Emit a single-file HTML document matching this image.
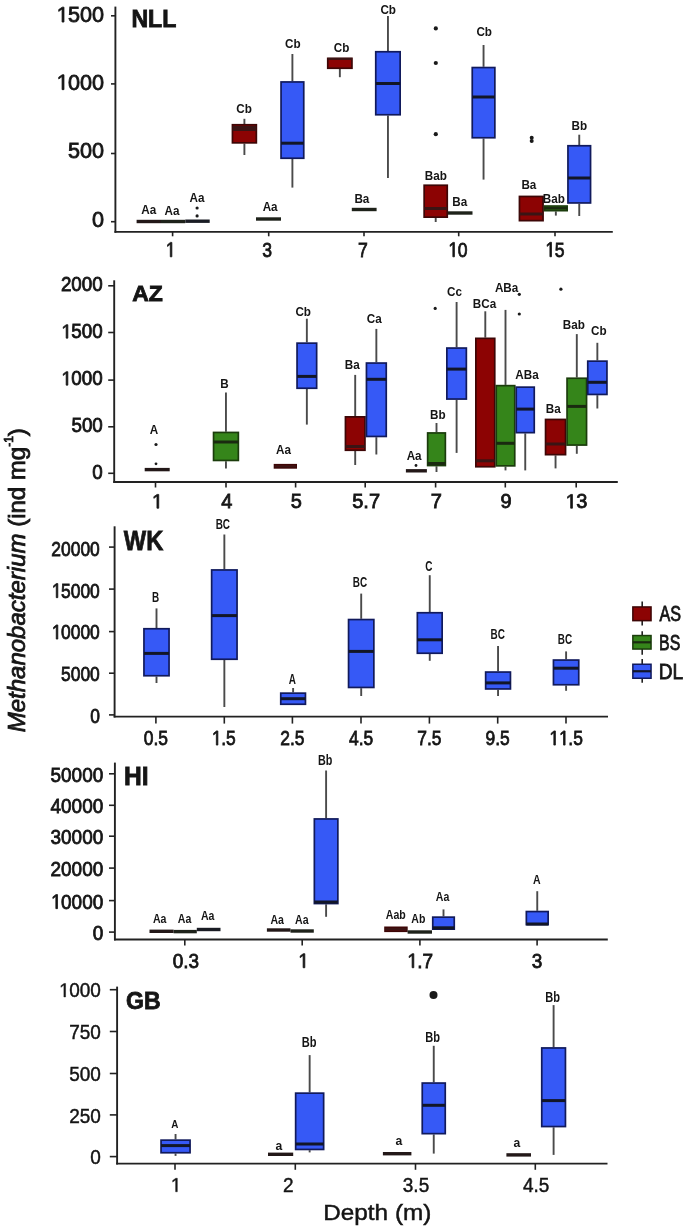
<!DOCTYPE html>
<html><head><meta charset="utf-8"><style>
html,body{margin:0;padding:0;background:#fff;}
svg{display:block;will-change:transform;}
text{font-family:"Liberation Sans",sans-serif;fill:#151515;stroke:#151515;stroke-width:0.8px;}
text.t{stroke-width:0.45px;}
text.l{stroke:none;}
</style></head><body>
<svg width="685" height="1229" viewBox="0 0 685 1229">
<rect width="685" height="1229" fill="#fff"/>
<line x1="115.4" y1="6.6" x2="115.4" y2="232.8" stroke="#222" stroke-width="1.9"/>
<line x1="114.5" y1="231.9" x2="612.8" y2="231.9" stroke="#222" stroke-width="1.9"/>
<line x1="111" y1="15.8" x2="115.4" y2="15.8" stroke="#222" stroke-width="1.6"/>
<line x1="111" y1="83.9" x2="115.4" y2="83.9" stroke="#222" stroke-width="1.6"/>
<line x1="111" y1="153.5" x2="115.4" y2="153.5" stroke="#222" stroke-width="1.6"/>
<line x1="111" y1="221.7" x2="115.4" y2="221.7" stroke="#222" stroke-width="1.6"/>
<text transform="translate(56,22.05)" font-size="21.6"> 500</text>
<path transform="translate(56,22.05) scale(0.01055,-0.01055) translate(0,0)" d="M575 0V1237L257 1010V1180L590 1409H756V0Z" fill="#151515" stroke="#151515" stroke-width="0.8" vector-effect="non-scaling-stroke"/>
<text transform="translate(56,89.65)" font-size="21.6"> 000</text>
<path transform="translate(56,89.65) scale(0.01055,-0.01055) translate(0,0)" d="M575 0V1237L257 1010V1180L590 1409H756V0Z" fill="#151515" stroke="#151515" stroke-width="0.8" vector-effect="non-scaling-stroke"/>
<text transform="translate(68.09,157.65)" font-size="21.6">500</text>
<text transform="translate(92.07,227.15)" font-size="21.6">0</text>
<line x1="172.6" y1="231.8" x2="172.6" y2="236.3" stroke="#222" stroke-width="1.6"/>
<line x1="268.7" y1="231.8" x2="268.7" y2="236.3" stroke="#222" stroke-width="1.6"/>
<line x1="364" y1="231.8" x2="364" y2="236.3" stroke="#222" stroke-width="1.6"/>
<line x1="458.7" y1="231.8" x2="458.7" y2="236.3" stroke="#222" stroke-width="1.6"/>
<line x1="555" y1="231.8" x2="555" y2="236.3" stroke="#222" stroke-width="1.6"/>
<text transform="translate(165.34,256.84) scale(0.840,1)" font-size="21"> </text>
<path transform="translate(165.34,256.84) scale(0.840,1) scale(0.01025,-0.01025) translate(0,0)" d="M575 0V1237L257 1010V1180L590 1409H756V0Z" fill="#151515" stroke="#151515" stroke-width="0.8" vector-effect="non-scaling-stroke"/>
<text transform="translate(262.2,256.84) scale(0.840,1)" font-size="21">3</text>
<text transform="translate(358,256.84) scale(0.840,1)" font-size="21">7</text>
<text transform="translate(447.91,256.84) scale(0.840,1)" font-size="21"> 0</text>
<path transform="translate(447.91,256.84) scale(0.840,1) scale(0.01025,-0.01025) translate(0,0)" d="M575 0V1237L257 1010V1180L590 1409H756V0Z" fill="#151515" stroke="#151515" stroke-width="0.8" vector-effect="non-scaling-stroke"/>
<text transform="translate(544.96,256.74) scale(0.840,1)" font-size="21"> 5</text>
<path transform="translate(544.96,256.74) scale(0.840,1) scale(0.01025,-0.01025) translate(0,0)" d="M575 0V1237L257 1010V1180L590 1409H756V0Z" fill="#151515" stroke="#151515" stroke-width="0.8" vector-effect="non-scaling-stroke"/>
<text transform="translate(131.4,26.8) scale(1.004,1)" font-size="23.04" font-weight="bold">NLL</text>
<rect x="136.6" y="219.8" width="24.4" height="3.4" fill="#231818"/>
<rect x="161" y="219.8" width="24.3" height="3.4" fill="#1e221a"/>
<rect x="185.3" y="219.5" width="24.4" height="3.4" fill="#1a1c24"/>
<text transform="translate(141.24,213.87) scale(0.900,1)" font-size="13" font-weight="bold" class="l">Aa</text>
<text transform="translate(164.54,215.37) scale(0.900,1)" font-size="13" font-weight="bold" class="l">Aa</text>
<text transform="translate(189.44,202.37) scale(0.900,1)" font-size="13" font-weight="bold" class="l">Aa</text>
<circle cx="197.1" cy="208" r="1.6" fill="#1a1a1a"/>
<circle cx="197.1" cy="215.9" r="1.6" fill="#1a1a1a"/>
<line x1="244.4" y1="118.8" x2="244.4" y2="124" stroke="#4a4a4a" stroke-width="1.9"/>
<line x1="244.4" y1="143.6" x2="244.4" y2="155" stroke="#4a4a4a" stroke-width="1.9"/>
<rect x="232.45" y="124.75" width="23.9" height="18.1" fill="#8c0303" stroke="#3d0606" stroke-width="1.7"/>
<line x1="232.45" y1="128.5" x2="256.35" y2="128.5" stroke="#3a1414" stroke-width="5"/>
<text transform="translate(236.22,113.33) scale(0.900,1)" font-size="13" font-weight="bold" class="l">Cb</text>
<rect x="256" y="217.3" width="25" height="3.4" fill="#1e221a"/>
<text transform="translate(262.64,210.77) scale(0.900,1)" font-size="13" font-weight="bold" class="l">Aa</text>
<line x1="292.4" y1="54" x2="292.4" y2="81.2" stroke="#4a4a4a" stroke-width="1.9"/>
<line x1="292.4" y1="159" x2="292.4" y2="187.6" stroke="#4a4a4a" stroke-width="1.9"/>
<rect x="281.05" y="81.95" width="22.7" height="76.3" fill="#3659f6" stroke="#111a5c" stroke-width="1.7"/>
<line x1="281.05" y1="143.2" x2="303.75" y2="143.2" stroke="#121628" stroke-width="3.0"/>
<text transform="translate(285.02,47.82) scale(0.900,1)" font-size="13" font-weight="bold" class="l">Cb</text>
<line x1="339.85" y1="69" x2="339.85" y2="77.2" stroke="#4a4a4a" stroke-width="1.9"/>
<rect x="327.75" y="58.35" width="24.2" height="9.9" fill="#8c0303" stroke="#3d0606" stroke-width="1.7"/>
<line x1="327.75" y1="58.9" x2="351.95" y2="58.9" stroke="#3a1414" stroke-width="2"/>
<text transform="translate(333.72,51.82) scale(0.900,1)" font-size="13" font-weight="bold" class="l">Cb</text>
<rect x="351.8" y="207.8" width="24.8" height="3.4" fill="#1e221a"/>
<text transform="translate(354.4,202.87) scale(0.900,1)" font-size="13" font-weight="bold" class="l">Ba</text>
<line x1="387.95" y1="16" x2="387.95" y2="51" stroke="#4a4a4a" stroke-width="1.9"/>
<line x1="387.95" y1="115.5" x2="387.95" y2="178" stroke="#4a4a4a" stroke-width="1.9"/>
<rect x="375.75" y="51.75" width="24.4" height="63" fill="#3659f6" stroke="#111a5c" stroke-width="1.7"/>
<line x1="375.75" y1="83.5" x2="400.15" y2="83.5" stroke="#121628" stroke-width="3.0"/>
<text transform="translate(380.42,13.72) scale(0.900,1)" font-size="13" font-weight="bold" class="l">Cb</text>
<line x1="435.7" y1="217.9" x2="435.7" y2="222" stroke="#4a4a4a" stroke-width="1.9"/>
<rect x="424.15" y="185.25" width="23.1" height="31.9" fill="#8c0303" stroke="#3d0606" stroke-width="1.7"/>
<line x1="424.15" y1="208.5" x2="447.25" y2="208.5" stroke="#3a1414" stroke-width="3.0"/>
<text transform="translate(424.8,179.73) scale(0.900,1)" font-size="13" font-weight="bold" class="l">Bab</text>
<circle cx="435.8" cy="28.4" r="2.1" fill="#1a1a1a"/>
<circle cx="435.8" cy="63" r="2.1" fill="#1a1a1a"/>
<circle cx="435.8" cy="134.2" r="2.1" fill="#1a1a1a"/>
<rect x="448" y="211.3" width="24.5" height="3.4" fill="#1e221a"/>
<text transform="translate(452.3,206.07) scale(0.900,1)" font-size="13" font-weight="bold" class="l">Ba</text>
<line x1="483.55" y1="45" x2="483.55" y2="66.8" stroke="#4a4a4a" stroke-width="1.9"/>
<line x1="483.55" y1="138.5" x2="483.55" y2="179.6" stroke="#4a4a4a" stroke-width="1.9"/>
<rect x="472.25" y="67.55" width="22.6" height="70.2" fill="#3659f6" stroke="#111a5c" stroke-width="1.7"/>
<line x1="472.25" y1="97" x2="494.85" y2="97" stroke="#121628" stroke-width="3.0"/>
<text transform="translate(476.42,36.42) scale(0.900,1)" font-size="13" font-weight="bold" class="l">Cb</text>
<rect x="519.45" y="196.45" width="23.6" height="24.2" fill="#8c0303" stroke="#3d0606" stroke-width="1.7"/>
<line x1="519.45" y1="214" x2="543.05" y2="214" stroke="#3a1414" stroke-width="3.0"/>
<text transform="translate(521.4,188.97) scale(0.900,1)" font-size="13" font-weight="bold" class="l">Ba</text>
<circle cx="531.7" cy="137.8" r="2" fill="#1a1a1a"/>
<circle cx="531.7" cy="141" r="2" fill="#1a1a1a"/>
<line x1="555.85" y1="211.4" x2="555.85" y2="215.6" stroke="#4a4a4a" stroke-width="1.9"/>
<rect x="544.55" y="206.05" width="22.6" height="4.6" fill="#35851a" stroke="#1b3c0c" stroke-width="1.7"/>
<line x1="544.55" y1="208.3" x2="567.15" y2="208.3" stroke="#1a2a10" stroke-width="2.5"/>
<text transform="translate(542.8,202.63) scale(0.900,1)" font-size="13" font-weight="bold" class="l">Bab</text>
<line x1="579.25" y1="134.7" x2="579.25" y2="145" stroke="#4a4a4a" stroke-width="1.9"/>
<line x1="579.25" y1="203.7" x2="579.25" y2="216" stroke="#4a4a4a" stroke-width="1.9"/>
<rect x="567.95" y="145.75" width="22.6" height="57.2" fill="#3659f6" stroke="#111a5c" stroke-width="1.7"/>
<line x1="567.95" y1="178" x2="590.55" y2="178" stroke="#121628" stroke-width="3.0"/>
<text transform="translate(571.47,129.83) scale(0.900,1)" font-size="13" font-weight="bold" class="l">Bb</text>
<line x1="114.2" y1="280.3" x2="114.2" y2="482.9" stroke="#222" stroke-width="1.9"/>
<line x1="113.3" y1="482" x2="617.8" y2="482" stroke="#222" stroke-width="1.9"/>
<line x1="108.2" y1="285.8" x2="114.2" y2="285.8" stroke="#222" stroke-width="1.6"/>
<line x1="108.2" y1="332.5" x2="114.2" y2="332.5" stroke="#222" stroke-width="1.6"/>
<line x1="108.2" y1="380.1" x2="114.2" y2="380.1" stroke="#222" stroke-width="1.6"/>
<line x1="108.2" y1="426.8" x2="114.2" y2="426.8" stroke="#222" stroke-width="1.6"/>
<line x1="108.2" y1="473.3" x2="114.2" y2="473.3" stroke="#222" stroke-width="1.6"/>
<text transform="translate(60.89,291.33) scale(0.965,1)" font-size="19.5">2000</text>
<text transform="translate(60.89,338.13) scale(0.965,1)" font-size="19.5"> 500</text>
<path transform="translate(60.89,338.13) scale(0.965,1) scale(0.00952,-0.00952) translate(0,0)" d="M575 0V1237L257 1010V1180L590 1409H756V0Z" fill="#151515" stroke="#151515" stroke-width="0.8" vector-effect="non-scaling-stroke"/>
<text transform="translate(60.89,385.13) scale(0.965,1)" font-size="19.5"> 000</text>
<path transform="translate(60.89,385.13) scale(0.965,1) scale(0.00952,-0.00952) translate(0,0)" d="M575 0V1237L257 1010V1180L590 1409H756V0Z" fill="#151515" stroke="#151515" stroke-width="0.8" vector-effect="non-scaling-stroke"/>
<text transform="translate(71.43,432.43) scale(0.965,1)" font-size="19.5">500</text>
<text transform="translate(92.31,478.83) scale(0.965,1)" font-size="19.5">0</text>
<line x1="155.5" y1="482" x2="155.5" y2="487.5" stroke="#222" stroke-width="1.6"/>
<line x1="226" y1="482" x2="226" y2="487.5" stroke="#222" stroke-width="1.6"/>
<line x1="295.6" y1="482" x2="295.6" y2="487.5" stroke="#222" stroke-width="1.6"/>
<line x1="365.2" y1="482" x2="365.2" y2="487.5" stroke="#222" stroke-width="1.6"/>
<line x1="435.6" y1="482" x2="435.6" y2="487.5" stroke="#222" stroke-width="1.6"/>
<line x1="505.3" y1="482" x2="505.3" y2="487.5" stroke="#222" stroke-width="1.6"/>
<line x1="576.2" y1="482" x2="576.2" y2="487.5" stroke="#222" stroke-width="1.6"/>
<text transform="translate(151.35,508.2)" font-size="20"> </text>
<path transform="translate(151.35,508.2) scale(0.00977,-0.00977) translate(0,0)" d="M575 0V1237L257 1010V1180L590 1409H756V0Z" fill="#151515" stroke="#151515" stroke-width="0.8" vector-effect="non-scaling-stroke"/>
<text transform="translate(221.35,508.2)" font-size="20">4</text>
<text transform="translate(290.85,508.1)" font-size="20">5</text>
<text transform="translate(352.2,508.1)" font-size="20">5.7</text>
<text transform="translate(430.85,508.2)" font-size="20">7</text>
<text transform="translate(500.55,508.2)" font-size="20">9</text>
<text transform="translate(565.05,508.2)" font-size="20"> 3</text>
<path transform="translate(565.05,508.2) scale(0.00977,-0.00977) translate(0,0)" d="M575 0V1237L257 1010V1180L590 1409H756V0Z" fill="#151515" stroke="#151515" stroke-width="0.8" vector-effect="non-scaling-stroke"/>
<text transform="translate(132.23,301) scale(1.071,1)" font-size="21.45" font-weight="bold">AZ</text>
<rect x="144.7" y="467.9" width="25" height="3.4" fill="#231818"/>
<circle cx="156" cy="444.5" r="1.6" fill="#1a1a1a"/>
<circle cx="156" cy="463.8" r="1.4" fill="#1a1a1a"/>
<text transform="translate(149.79,434.07) scale(0.900,1)" font-size="13" font-weight="bold" class="l">A</text>
<line x1="225.95" y1="392.5" x2="225.95" y2="431.7" stroke="#4a4a4a" stroke-width="1.9"/>
<line x1="225.95" y1="461.2" x2="225.95" y2="468.6" stroke="#4a4a4a" stroke-width="1.9"/>
<rect x="213.55" y="432.45" width="24.8" height="28" fill="#35851a" stroke="#1b3c0c" stroke-width="1.7"/>
<line x1="213.55" y1="442" x2="238.35" y2="442" stroke="#1a2a10" stroke-width="3.0"/>
<text transform="translate(220.17,387.77) scale(0.900,1)" font-size="13" font-weight="bold" class="l">B</text>
<rect x="274.55" y="464.75" width="21.6" height="3.1" fill="#8c0303" stroke="#3d0606" stroke-width="1.7"/>
<line x1="274.55" y1="466.3" x2="296.15" y2="466.3" stroke="#3a1414" stroke-width="2"/>
<text transform="translate(276.04,453.77) scale(0.900,1)" font-size="13" font-weight="bold" class="l">Aa</text>
<line x1="306.85" y1="318.7" x2="306.85" y2="342.4" stroke="#4a4a4a" stroke-width="1.9"/>
<line x1="306.85" y1="389" x2="306.85" y2="424.6" stroke="#4a4a4a" stroke-width="1.9"/>
<rect x="297.05" y="343.15" width="19.6" height="45.1" fill="#3659f6" stroke="#111a5c" stroke-width="1.7"/>
<line x1="297.05" y1="376.4" x2="316.65" y2="376.4" stroke="#121628" stroke-width="3.0"/>
<text transform="translate(295.42,315.62) scale(0.900,1)" font-size="13" font-weight="bold" class="l">Cb</text>
<line x1="355.2" y1="374.9" x2="355.2" y2="416.1" stroke="#4a4a4a" stroke-width="1.9"/>
<line x1="355.2" y1="451" x2="355.2" y2="465" stroke="#4a4a4a" stroke-width="1.9"/>
<rect x="345.45" y="416.85" width="19.5" height="33.4" fill="#8c0303" stroke="#3d0606" stroke-width="1.7"/>
<line x1="345.45" y1="446.5" x2="364.95" y2="446.5" stroke="#3a1414" stroke-width="3.0"/>
<text transform="translate(344.8,369.27) scale(0.900,1)" font-size="13" font-weight="bold" class="l">Ba</text>
<line x1="376.35" y1="328.9" x2="376.35" y2="362.3" stroke="#4a4a4a" stroke-width="1.9"/>
<line x1="376.35" y1="437.2" x2="376.35" y2="454.5" stroke="#4a4a4a" stroke-width="1.9"/>
<rect x="366.45" y="363.05" width="19.8" height="73.4" fill="#3659f6" stroke="#111a5c" stroke-width="1.7"/>
<line x1="366.45" y1="379.3" x2="386.25" y2="379.3" stroke="#121628" stroke-width="3.0"/>
<text transform="translate(366.75,323.4) scale(0.900,1)" font-size="13" font-weight="bold" class="l">Ca</text>
<rect x="405.9" y="469.1" width="21" height="3.4" fill="#231818"/>
<circle cx="416" cy="465.5" r="1.4" fill="#1a1a1a"/>
<text transform="translate(406.64,459.87) scale(0.900,1)" font-size="13" font-weight="bold" class="l">Aa</text>
<line x1="436.5" y1="423" x2="436.5" y2="432.2" stroke="#4a4a4a" stroke-width="1.9"/>
<line x1="436.5" y1="466.3" x2="436.5" y2="472" stroke="#4a4a4a" stroke-width="1.9"/>
<rect x="427.65" y="432.95" width="17.7" height="32.6" fill="#35851a" stroke="#1b3c0c" stroke-width="1.7"/>
<line x1="427.65" y1="463.5" x2="445.35" y2="463.5" stroke="#1a2a10" stroke-width="3.0"/>
<text transform="translate(430.07,419.43) scale(0.900,1)" font-size="13" font-weight="bold" class="l">Bb</text>
<line x1="456.6" y1="302" x2="456.6" y2="347.3" stroke="#4a4a4a" stroke-width="1.9"/>
<line x1="456.6" y1="399.8" x2="456.6" y2="452.9" stroke="#4a4a4a" stroke-width="1.9"/>
<rect x="446.85" y="348.05" width="19.5" height="51" fill="#3659f6" stroke="#111a5c" stroke-width="1.7"/>
<line x1="446.85" y1="369.1" x2="466.35" y2="369.1" stroke="#121628" stroke-width="3.0"/>
<text transform="translate(447.08,295.6) scale(0.900,1)" font-size="13" font-weight="bold" class="l">Cc</text>
<circle cx="435.2" cy="308.4" r="1.6" fill="#1a1a1a"/>
<line x1="485.3" y1="311.3" x2="485.3" y2="337.6" stroke="#4a4a4a" stroke-width="1.9"/>
<rect x="475.85" y="338.35" width="18.9" height="128.4" fill="#8c0303" stroke="#3d0606" stroke-width="1.7"/>
<line x1="475.85" y1="460.8" x2="494.75" y2="460.8" stroke="#3a1414" stroke-width="3.0"/>
<text transform="translate(472.76,307.5) scale(0.900,1)" font-size="13" font-weight="bold" class="l">BCa</text>
<line x1="505.5" y1="309.9" x2="505.5" y2="384.9" stroke="#4a4a4a" stroke-width="1.9"/>
<line x1="505.5" y1="466.6" x2="505.5" y2="470.4" stroke="#4a4a4a" stroke-width="1.9"/>
<rect x="496.25" y="385.65" width="18.5" height="80.2" fill="#35851a" stroke="#1b3c0c" stroke-width="1.7"/>
<line x1="496.25" y1="443.3" x2="514.75" y2="443.3" stroke="#1a2a10" stroke-width="3.0"/>
<text transform="translate(494.9,292.07) scale(0.900,1)" font-size="13" font-weight="bold" class="l">ABa</text>
<circle cx="519.3" cy="294.3" r="1.6" fill="#1a1a1a"/>
<circle cx="519.3" cy="314" r="1.6" fill="#1a1a1a"/>
<line x1="525.25" y1="433.4" x2="525.25" y2="470.4" stroke="#4a4a4a" stroke-width="1.9"/>
<rect x="516.25" y="387.15" width="18" height="45.5" fill="#3659f6" stroke="#111a5c" stroke-width="1.7"/>
<line x1="516.25" y1="409.1" x2="534.25" y2="409.1" stroke="#121628" stroke-width="3.0"/>
<text transform="translate(515.3,378.67) scale(0.900,1)" font-size="13" font-weight="bold" class="l">ABa</text>
<line x1="555.55" y1="455.4" x2="555.55" y2="468.4" stroke="#4a4a4a" stroke-width="1.9"/>
<rect x="545.55" y="419.45" width="20" height="35.2" fill="#8c0303" stroke="#3d0606" stroke-width="1.7"/>
<line x1="545.55" y1="444" x2="565.55" y2="444" stroke="#3a1414" stroke-width="3.0"/>
<text transform="translate(545.7,413.47) scale(0.900,1)" font-size="13" font-weight="bold" class="l">Ba</text>
<circle cx="560.9" cy="289.2" r="1.6" fill="#1a1a1a"/>
<line x1="576.8" y1="334.1" x2="576.8" y2="377.5" stroke="#4a4a4a" stroke-width="1.9"/>
<line x1="576.8" y1="445.8" x2="576.8" y2="453.8" stroke="#4a4a4a" stroke-width="1.9"/>
<rect x="567.05" y="378.25" width="19.5" height="66.8" fill="#35851a" stroke="#1b3c0c" stroke-width="1.7"/>
<line x1="567.05" y1="406.4" x2="586.55" y2="406.4" stroke="#1a2a10" stroke-width="3.0"/>
<text transform="translate(562.8,328.62) scale(0.900,1)" font-size="13" font-weight="bold" class="l">Bab</text>
<line x1="597.35" y1="342.8" x2="597.35" y2="360.4" stroke="#4a4a4a" stroke-width="1.9"/>
<line x1="597.35" y1="395.2" x2="597.35" y2="408.5" stroke="#4a4a4a" stroke-width="1.9"/>
<rect x="587.75" y="361.15" width="19.2" height="33.3" fill="#3659f6" stroke="#111a5c" stroke-width="1.7"/>
<line x1="587.75" y1="382.3" x2="606.95" y2="382.3" stroke="#121628" stroke-width="3.0"/>
<text transform="translate(591.12,334.72) scale(0.900,1)" font-size="13" font-weight="bold" class="l">Cb</text>
<line x1="114.6" y1="526.3" x2="114.6" y2="717.5" stroke="#222" stroke-width="1.9"/>
<line x1="113.69999999999999" y1="716.6" x2="608" y2="716.6" stroke="#222" stroke-width="1.9"/>
<line x1="109" y1="547.1" x2="114.6" y2="547.1" stroke="#222" stroke-width="1.6"/>
<line x1="109" y1="589.1" x2="114.6" y2="589.1" stroke="#222" stroke-width="1.6"/>
<line x1="109" y1="631.6" x2="114.6" y2="631.6" stroke="#222" stroke-width="1.6"/>
<line x1="109" y1="673.2" x2="114.6" y2="673.2" stroke="#222" stroke-width="1.6"/>
<line x1="109" y1="714.9" x2="114.6" y2="714.9" stroke="#222" stroke-width="1.6"/>
<text transform="translate(51.37,555.77) scale(0.850,1)" font-size="20.5">20000</text>
<text transform="translate(51.37,597.67) scale(0.850,1)" font-size="20.5"> 5000</text>
<path transform="translate(51.37,597.67) scale(0.850,1) scale(0.01001,-0.01001) translate(0,0)" d="M575 0V1237L257 1010V1180L590 1409H756V0Z" fill="#151515" stroke="#151515" stroke-width="0.8" vector-effect="non-scaling-stroke"/>
<text transform="translate(51.37,639.07) scale(0.850,1)" font-size="20.5"> 0000</text>
<path transform="translate(51.37,639.07) scale(0.850,1) scale(0.01001,-0.01001) translate(0,0)" d="M575 0V1237L257 1010V1180L590 1409H756V0Z" fill="#151515" stroke="#151515" stroke-width="0.8" vector-effect="non-scaling-stroke"/>
<text transform="translate(61.04,681.07) scale(0.850,1)" font-size="20.5">5000</text>
<text transform="translate(90.14,722.87) scale(0.850,1)" font-size="20.5">0</text>
<line x1="155.9" y1="716.6" x2="155.9" y2="723.6" stroke="#222" stroke-width="1.6"/>
<line x1="224.3" y1="716.6" x2="224.3" y2="723.6" stroke="#222" stroke-width="1.6"/>
<line x1="292.4" y1="716.6" x2="292.4" y2="723.6" stroke="#222" stroke-width="1.6"/>
<line x1="361" y1="716.6" x2="361" y2="723.6" stroke="#222" stroke-width="1.6"/>
<line x1="429.4" y1="716.6" x2="429.4" y2="723.6" stroke="#222" stroke-width="1.6"/>
<line x1="497.7" y1="716.6" x2="497.7" y2="723.6" stroke="#222" stroke-width="1.6"/>
<line x1="566" y1="716.6" x2="566" y2="723.6" stroke="#222" stroke-width="1.6"/>
<text transform="translate(143.79,745.17) scale(0.850,1)" font-size="20.5">0.5</text>
<text transform="translate(211.44,745.07) scale(0.850,1)" font-size="20.5"> .5</text>
<path transform="translate(211.44,745.07) scale(0.850,1) scale(0.01001,-0.01001) translate(0,0)" d="M575 0V1237L257 1010V1180L590 1409H756V0Z" fill="#151515" stroke="#151515" stroke-width="0.8" vector-effect="non-scaling-stroke"/>
<text transform="translate(280.2,745.17) scale(0.850,1)" font-size="20.5">2.5</text>
<text transform="translate(349.06,745.07) scale(0.850,1)" font-size="20.5">4.5</text>
<text transform="translate(417.2,745.07) scale(0.850,1)" font-size="20.5">7.5</text>
<text transform="translate(485.55,745.17) scale(0.850,1)" font-size="20.5">9.5</text>
<text transform="translate(548.96,745.07) scale(0.850,1)" font-size="20.5">  .5</text>
<path transform="translate(548.96,745.07) scale(0.850,1) scale(0.01001,-0.01001) translate(0,0)" d="M575 0V1237L257 1010V1180L590 1409H756V0Z" fill="#151515" stroke="#151515" stroke-width="0.8" vector-effect="non-scaling-stroke"/>
<path transform="translate(548.96,745.07) scale(0.850,1) scale(0.01001,-0.01001) translate(1139,0)" d="M575 0V1237L257 1010V1180L590 1409H756V0Z" fill="#151515" stroke="#151515" stroke-width="0.8" vector-effect="non-scaling-stroke"/>
<text transform="translate(123.8,550.3) scale(0.840,1)" font-size="28.26" font-weight="bold">WK</text>
<line x1="156.5" y1="608.4" x2="156.5" y2="628" stroke="#4a4a4a" stroke-width="1.9"/>
<line x1="156.5" y1="676.5" x2="156.5" y2="683" stroke="#4a4a4a" stroke-width="1.9"/>
<rect x="143.95" y="628.75" width="25.1" height="47" fill="#3659f6" stroke="#111a5c" stroke-width="1.7"/>
<line x1="143.95" y1="653.4" x2="169.05" y2="653.4" stroke="#121628" stroke-width="3.0"/>
<text transform="translate(152.03,602) scale(0.640,1)" font-size="15.5" font-weight="bold" class="l">B</text>
<line x1="224.35" y1="534.5" x2="224.35" y2="569.2" stroke="#4a4a4a" stroke-width="1.9"/>
<line x1="224.35" y1="660" x2="224.35" y2="707" stroke="#4a4a4a" stroke-width="1.9"/>
<rect x="211.65" y="569.95" width="25.4" height="89.3" fill="#3659f6" stroke="#111a5c" stroke-width="1.7"/>
<line x1="211.65" y1="615.6" x2="237.05" y2="615.6" stroke="#121628" stroke-width="3.0"/>
<text transform="translate(215.66,529.15) scale(0.640,1)" font-size="15.5" font-weight="bold" class="l">BC</text>
<line x1="293.1" y1="688" x2="293.1" y2="692.4" stroke="#4a4a4a" stroke-width="1.9"/>
<rect x="280.75" y="693.15" width="24.7" height="11.1" fill="#3659f6" stroke="#111a5c" stroke-width="1.7"/>
<line x1="280.75" y1="698.7" x2="305.45" y2="698.7" stroke="#121628" stroke-width="3.0"/>
<text transform="translate(288.83,683.8) scale(0.640,1)" font-size="15.5" font-weight="bold" class="l">A</text>
<line x1="361.2" y1="593.6" x2="361.2" y2="618.8" stroke="#4a4a4a" stroke-width="1.9"/>
<line x1="361.2" y1="688.2" x2="361.2" y2="696" stroke="#4a4a4a" stroke-width="1.9"/>
<rect x="348.55" y="619.55" width="25.3" height="67.9" fill="#3659f6" stroke="#111a5c" stroke-width="1.7"/>
<line x1="348.55" y1="651.4" x2="373.85" y2="651.4" stroke="#121628" stroke-width="3.0"/>
<text transform="translate(352.86,586.65) scale(0.640,1)" font-size="15.5" font-weight="bold" class="l">BC</text>
<line x1="429.75" y1="575.2" x2="429.75" y2="612" stroke="#4a4a4a" stroke-width="1.9"/>
<line x1="429.75" y1="654" x2="429.75" y2="660.8" stroke="#4a4a4a" stroke-width="1.9"/>
<rect x="417.35" y="612.75" width="24.8" height="40.5" fill="#3659f6" stroke="#111a5c" stroke-width="1.7"/>
<line x1="417.35" y1="639.8" x2="442.15" y2="639.8" stroke="#121628" stroke-width="3.0"/>
<text transform="translate(425.35,570.55) scale(0.640,1)" font-size="15.5" font-weight="bold" class="l">C</text>
<line x1="498.05" y1="646.1" x2="498.05" y2="671.3" stroke="#4a4a4a" stroke-width="1.9"/>
<line x1="498.05" y1="689.7" x2="498.05" y2="696" stroke="#4a4a4a" stroke-width="1.9"/>
<rect x="485.65" y="672.05" width="24.8" height="16.9" fill="#3659f6" stroke="#111a5c" stroke-width="1.7"/>
<line x1="485.65" y1="682.9" x2="510.45" y2="682.9" stroke="#121628" stroke-width="3.0"/>
<text transform="translate(490.56,638.95) scale(0.640,1)" font-size="15.5" font-weight="bold" class="l">BC</text>
<line x1="566.1" y1="651.4" x2="566.1" y2="659.3" stroke="#4a4a4a" stroke-width="1.9"/>
<line x1="566.1" y1="685.5" x2="566.1" y2="690.8" stroke="#4a4a4a" stroke-width="1.9"/>
<rect x="553.45" y="660.05" width="25.3" height="24.7" fill="#3659f6" stroke="#111a5c" stroke-width="1.7"/>
<line x1="553.45" y1="668.2" x2="578.75" y2="668.2" stroke="#121628" stroke-width="3.0"/>
<text transform="translate(557.76,644.45) scale(0.640,1)" font-size="15.5" font-weight="bold" class="l">BC</text>
<line x1="114.9" y1="762.6" x2="114.9" y2="940.4" stroke="#222" stroke-width="1.9"/>
<line x1="114.0" y1="939.5" x2="607.8" y2="939.5" stroke="#222" stroke-width="1.9"/>
<line x1="109" y1="773.8" x2="114.9" y2="773.8" stroke="#222" stroke-width="1.6"/>
<line x1="109" y1="805.3" x2="114.9" y2="805.3" stroke="#222" stroke-width="1.6"/>
<line x1="109" y1="836.2" x2="114.9" y2="836.2" stroke="#222" stroke-width="1.6"/>
<line x1="109" y1="868.1" x2="114.9" y2="868.1" stroke="#222" stroke-width="1.6"/>
<line x1="109" y1="900.6" x2="114.9" y2="900.6" stroke="#222" stroke-width="1.6"/>
<line x1="109" y1="932.1" x2="114.9" y2="932.1" stroke="#222" stroke-width="1.6"/>
<text transform="translate(50.52,782.14) scale(0.930,1)" font-size="20.4">50000</text>
<text transform="translate(50.52,813.34) scale(0.930,1)" font-size="20.4">40000</text>
<text transform="translate(50.52,844.24) scale(0.930,1)" font-size="20.4">30000</text>
<text transform="translate(50.52,875.64) scale(0.930,1)" font-size="20.4">20000</text>
<text transform="translate(50.52,908.64) scale(0.930,1)" font-size="20.4"> 0000</text>
<path transform="translate(50.52,908.64) scale(0.930,1) scale(0.00996,-0.00996) translate(0,0)" d="M575 0V1237L257 1010V1180L590 1409H756V0Z" fill="#151515" stroke="#151515" stroke-width="0.8" vector-effect="non-scaling-stroke"/>
<text transform="translate(92.73,940.04) scale(0.930,1)" font-size="20.4">0</text>
<line x1="184.8" y1="939.5" x2="184.8" y2="945.5" stroke="#222" stroke-width="1.6"/>
<line x1="302.2" y1="939.5" x2="302.2" y2="945.5" stroke="#222" stroke-width="1.6"/>
<line x1="419.9" y1="939.5" x2="419.9" y2="945.5" stroke="#222" stroke-width="1.6"/>
<line x1="537.1" y1="939.5" x2="537.1" y2="945.5" stroke="#222" stroke-width="1.6"/>
<text transform="translate(172.81,967.74) scale(0.930,1)" font-size="20.4">0.3</text>
<text transform="translate(297.81,967.74) scale(0.930,1)" font-size="20.4"> </text>
<path transform="translate(297.81,967.74) scale(0.930,1) scale(0.00996,-0.00996) translate(0,0)" d="M575 0V1237L257 1010V1180L590 1409H756V0Z" fill="#151515" stroke="#151515" stroke-width="0.8" vector-effect="non-scaling-stroke"/>
<text transform="translate(406.8,967.74) scale(0.930,1)" font-size="20.4"> .7</text>
<path transform="translate(406.8,967.74) scale(0.930,1) scale(0.00996,-0.00996) translate(0,0)" d="M575 0V1237L257 1010V1180L590 1409H756V0Z" fill="#151515" stroke="#151515" stroke-width="0.8" vector-effect="non-scaling-stroke"/>
<text transform="translate(531.84,967.74) scale(0.930,1)" font-size="20.4">3</text>
<text transform="translate(124.1,784.9) scale(0.976,1)" font-size="25.22" font-weight="bold">HI</text>
<rect x="149.5" y="929.6" width="24.1" height="3.4" fill="#231818"/>
<rect x="173.6" y="929.9" width="23.2" height="3.4" fill="#1e221a"/>
<rect x="196.8" y="927.8" width="23.7" height="3.4" fill="#1a1c24"/>
<text transform="translate(152.98,922.98) scale(0.880,1)" font-size="12" font-weight="bold" class="l">Aa</text>
<text transform="translate(177.78,922.98) scale(0.880,1)" font-size="12" font-weight="bold" class="l">Aa</text>
<text transform="translate(200.88,920.38) scale(0.880,1)" font-size="12" font-weight="bold" class="l">Aa</text>
<rect x="266.9" y="928.3" width="23.6" height="3.4" fill="#231818"/>
<rect x="290.5" y="929.3" width="23.3" height="3.4" fill="#1e221a"/>
<text transform="translate(270.48,924.18) scale(0.880,1)" font-size="12" font-weight="bold" class="l">Aa</text>
<text transform="translate(295.08,924.18) scale(0.880,1)" font-size="12" font-weight="bold" class="l">Aa</text>
<line x1="326.1" y1="770.5" x2="326.1" y2="818.2" stroke="#4a4a4a" stroke-width="1.9"/>
<line x1="326.1" y1="904.3" x2="326.1" y2="916.8" stroke="#4a4a4a" stroke-width="1.9"/>
<rect x="314.35" y="818.95" width="23.5" height="84.6" fill="#3659f6" stroke="#111a5c" stroke-width="1.7"/>
<line x1="314.35" y1="902" x2="337.85" y2="902" stroke="#121628" stroke-width="3.0"/>
<text transform="translate(317.98,764.57) scale(0.720,1)" font-size="15" font-weight="bold" class="l">Bb</text>
<rect x="385.05" y="927.35" width="21.8" height="3.9" fill="#8c0303" stroke="#3d0606" stroke-width="1.7"/>
<line x1="385.05" y1="929.3" x2="406.85" y2="929.3" stroke="#3a1414" stroke-width="2.5"/>
<text transform="translate(385.8,919.1) scale(0.880,1)" font-size="12" font-weight="bold" class="l">Aab</text>
<rect x="407.6" y="930.3" width="24.4" height="3.4" fill="#1e221a"/>
<text transform="translate(411.26,922.6) scale(0.880,1)" font-size="12" font-weight="bold" class="l">Ab</text>
<line x1="443.5" y1="909.4" x2="443.5" y2="916.4" stroke="#4a4a4a" stroke-width="1.9"/>
<rect x="432.75" y="917.15" width="21.5" height="12" fill="#3659f6" stroke="#111a5c" stroke-width="1.7"/>
<line x1="432.75" y1="927.8" x2="454.25" y2="927.8" stroke="#121628" stroke-width="3.0"/>
<text transform="translate(435.78,900.98) scale(0.880,1)" font-size="12" font-weight="bold" class="l">Aa</text>
<line x1="537.25" y1="891.2" x2="537.25" y2="910.8" stroke="#4a4a4a" stroke-width="1.9"/>
<rect x="526.35" y="911.55" width="21.8" height="13.1" fill="#3659f6" stroke="#111a5c" stroke-width="1.7"/>
<line x1="526.35" y1="924" x2="548.15" y2="924" stroke="#121628" stroke-width="3.0"/>
<text transform="translate(533.1,883.68) scale(0.880,1)" font-size="12" font-weight="bold" class="l">A</text>
<line x1="117.1" y1="986.6" x2="117.1" y2="1164.5" stroke="#222" stroke-width="1.9"/>
<line x1="116.19999999999999" y1="1163.6" x2="607.5" y2="1163.6" stroke="#222" stroke-width="1.9"/>
<line x1="109.8" y1="989.7" x2="117.1" y2="989.7" stroke="#222" stroke-width="1.6"/>
<line x1="109.8" y1="1031.5" x2="117.1" y2="1031.5" stroke="#222" stroke-width="1.6"/>
<line x1="109.8" y1="1073.5" x2="117.1" y2="1073.5" stroke="#222" stroke-width="1.6"/>
<line x1="109.8" y1="1114.9" x2="117.1" y2="1114.9" stroke="#222" stroke-width="1.6"/>
<line x1="109.8" y1="1156.6" x2="117.1" y2="1156.6" stroke="#222" stroke-width="1.6"/>
<text transform="translate(58.56,996.96) scale(0.970,1)" font-size="19.6" class="t"> 000</text>
<path transform="translate(58.56,996.96) scale(0.970,1) scale(0.00957,-0.00957) translate(0,0)" d="M575 0V1237L257 1010V1180L590 1409H756V0Z" fill="#151515" stroke="#151515" stroke-width="0.45" vector-effect="non-scaling-stroke"/>
<text transform="translate(69.21,1038.66) scale(0.970,1)" font-size="19.6" class="t">750</text>
<text transform="translate(69.21,1080.96) scale(0.970,1)" font-size="19.6" class="t">500</text>
<text transform="translate(69.21,1122.76) scale(0.970,1)" font-size="19.6" class="t">250</text>
<text transform="translate(90.31,1163.76) scale(0.970,1)" font-size="19.6" class="t">0</text>
<line x1="175" y1="1163.6" x2="175" y2="1169.8" stroke="#222" stroke-width="1.6"/>
<line x1="295.3" y1="1163.6" x2="295.3" y2="1169.8" stroke="#222" stroke-width="1.6"/>
<line x1="415.5" y1="1163.6" x2="415.5" y2="1169.8" stroke="#222" stroke-width="1.6"/>
<line x1="535.3" y1="1163.6" x2="535.3" y2="1169.8" stroke="#222" stroke-width="1.6"/>
<text transform="translate(170.3,1191.76) scale(0.970,1)" font-size="19.6" class="t"> </text>
<path transform="translate(170.3,1191.76) scale(0.970,1) scale(0.00957,-0.00957) translate(0,0)" d="M575 0V1237L257 1010V1180L590 1409H756V0Z" fill="#151515" stroke="#151515" stroke-width="0.45" vector-effect="non-scaling-stroke"/>
<text transform="translate(282.92,1191.86) scale(0.970,1)" font-size="19.6" class="t">2</text>
<text transform="translate(402.79,1191.76) scale(0.970,1)" font-size="19.6" class="t">3.5</text>
<text transform="translate(522.88,1191.66) scale(0.970,1)" font-size="19.6" class="t">4.5</text>
<text transform="translate(125.98,1008.76) scale(0.971,1)" font-size="23.8" font-weight="bold">GB</text>
<line x1="175.55" y1="1134" x2="175.55" y2="1139.4" stroke="#4a4a4a" stroke-width="1.9"/>
<line x1="175.55" y1="1153.5" x2="175.55" y2="1155.9" stroke="#4a4a4a" stroke-width="1.9"/>
<rect x="161.05" y="1140.15" width="29" height="12.6" fill="#3659f6" stroke="#111a5c" stroke-width="1.7"/>
<line x1="161.05" y1="1145.6" x2="190.05" y2="1145.6" stroke="#121628" stroke-width="3.0"/>
<text transform="translate(171.34,1127.59) scale(0.900,1)" font-size="11" font-weight="bold" class="l">A</text>
<rect x="268" y="1152.6" width="25.2" height="3.4" fill="#231818"/>
<text transform="translate(275.39,1149.69) scale(0.900,1)" font-size="13.5" font-weight="bold" class="l">a</text>
<line x1="309.65" y1="1055.1" x2="309.65" y2="1092.4" stroke="#4a4a4a" stroke-width="1.9"/>
<line x1="309.65" y1="1150.2" x2="309.65" y2="1152.4" stroke="#4a4a4a" stroke-width="1.9"/>
<rect x="295.65" y="1093.15" width="28" height="56.3" fill="#3659f6" stroke="#111a5c" stroke-width="1.7"/>
<line x1="295.65" y1="1144" x2="323.65" y2="1144" stroke="#121628" stroke-width="3.0"/>
<text transform="translate(301.68,1047.38) scale(0.740,1)" font-size="15" font-weight="bold" class="l">Bb</text>
<rect x="382.9" y="1152" width="28.5" height="3.4" fill="#231818"/>
<text transform="translate(395.39,1145.49) scale(0.900,1)" font-size="13.5" font-weight="bold" class="l">a</text>
<line x1="433.75" y1="1045.8" x2="433.75" y2="1082.3" stroke="#4a4a4a" stroke-width="1.9"/>
<line x1="433.75" y1="1134.4" x2="433.75" y2="1153.6" stroke="#4a4a4a" stroke-width="1.9"/>
<rect x="422.25" y="1083.05" width="23" height="50.6" fill="#3659f6" stroke="#111a5c" stroke-width="1.7"/>
<line x1="422.25" y1="1105.3" x2="445.25" y2="1105.3" stroke="#121628" stroke-width="3.0"/>
<text transform="translate(425.18,1042.08) scale(0.740,1)" font-size="15" font-weight="bold" class="l">Bb</text>
<circle cx="433.5" cy="994.9" r="4" fill="#1a1a1a"/>
<rect x="506.4" y="1153.2" width="24.6" height="3.4" fill="#231818"/>
<text transform="translate(513.59,1146.69) scale(0.900,1)" font-size="13.5" font-weight="bold" class="l">a</text>
<line x1="553.6" y1="1005.1" x2="553.6" y2="1047.2" stroke="#4a4a4a" stroke-width="1.9"/>
<line x1="553.6" y1="1127.3" x2="553.6" y2="1154.9" stroke="#4a4a4a" stroke-width="1.9"/>
<rect x="541.75" y="1047.95" width="23.7" height="78.6" fill="#3659f6" stroke="#111a5c" stroke-width="1.7"/>
<line x1="541.75" y1="1100.6" x2="565.45" y2="1100.6" stroke="#121628" stroke-width="3.0"/>
<text transform="translate(545.28,1002.17) scale(0.740,1)" font-size="15" font-weight="bold" class="l">Bb</text>
<text transform="translate(323.26,1219.75) scale(1.148,1)" font-size="21.18" class="t">Depth (m)</text>
<line x1="642.2" y1="601.6" x2="642.2" y2="625.6" stroke="#222" stroke-width="1.6"/>
<rect x="632.85" y="606.95" width="18.20" height="13.70" fill="#8c0303" stroke="#3d0606" stroke-width="1.5"/>
<line x1="642.2" y1="631.2" x2="642.2" y2="654.8" stroke="#222" stroke-width="1.6"/>
<rect x="632.85" y="635.55" width="18.20" height="13.50" fill="#35851a" stroke="#1b3c0c" stroke-width="1.5"/>
<line x1="632.9" y1="642.30" x2="651" y2="642.30" stroke="#1a2a10" stroke-width="2.2"/>
<line x1="642.2" y1="659" x2="642.2" y2="682.8" stroke="#222" stroke-width="1.6"/>
<rect x="632.85" y="664.25" width="18.20" height="14.00" fill="#3659f6" stroke="#111a5c" stroke-width="1.5"/>
<line x1="632.9" y1="671.25" x2="651" y2="671.25" stroke="#121628" stroke-width="2.2"/>
<text transform="translate(659.4,621.09) scale(0.756,1)" font-size="21.41">AS</text>
<text transform="translate(659.03,650.19) scale(0.749,1)" font-size="21.27">BS</text>
<text transform="translate(658.77,678.9) scale(0.875,1)" font-size="21.88">DL</text>
<text transform="translate(25.2,732.3) rotate(-90)" font-size="24"><tspan font-style="italic">Methanobacterium</tspan> (ind mg<tspan font-size="12" dy="-12">-1</tspan><tspan dy="12">)</tspan></text>
</svg>
</body></html>
